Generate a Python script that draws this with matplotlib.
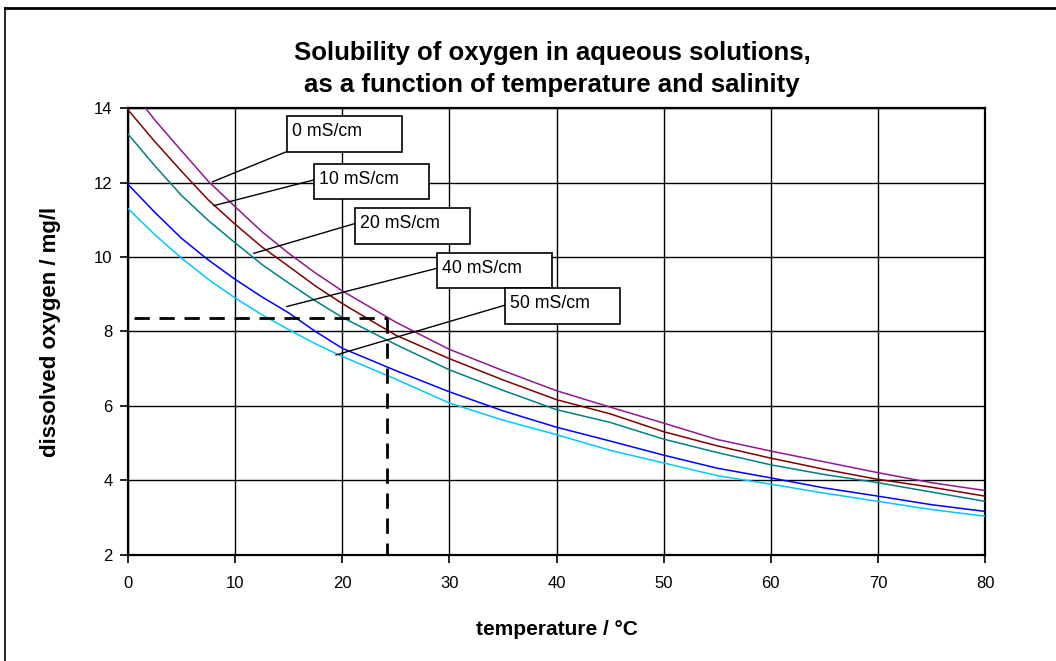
import matplotlib
matplotlib.use("Agg")
import matplotlib.pyplot as plt
from matplotlib.patches import Rectangle
from matplotlib.lines import Line2D

plt.rcParams['font.family'] = ['Liberation Sans', 'DejaVu Sans']

# data (mg/l at each temperature)
temperature = [0, 2.5, 5, 7.5, 10, 12.5, 15, 17.5, 20, 25, 30, 35, 40, 45, 50, 55, 60, 65, 70, 75, 80]
o2_0 = [14.6, 13.68, 12.85, 12.03, 11.35, 10.68, 10.1, 9.57, 9.09, 8.25, 7.52, 6.95, 6.41, 5.97, 5.54, 5.1, 4.79, 4.5, 4.21, 3.94, 3.73]
o2_10 = [13.95, 13.1, 12.3, 11.53, 10.88, 10.27, 9.75, 9.22, 8.75, 7.9, 7.27, 6.7, 6.17, 5.79, 5.31, 4.93, 4.6, 4.3, 4.03, 3.82, 3.58]
o2_20 = [13.3, 12.45, 11.65, 10.98, 10.38, 9.8, 9.3, 8.82, 8.38, 7.65, 6.97, 6.42, 5.9, 5.56, 5.11, 4.75, 4.42, 4.16, 3.94, 3.69, 3.44]
o2_40 = [11.95, 11.2, 10.5, 9.92, 9.4, 8.93, 8.5, 8.0, 7.55, 6.95, 6.38, 5.87, 5.43, 5.06, 4.68, 4.33, 4.07, 3.8, 3.58, 3.35, 3.17]
o2_50 = [11.3, 10.6, 9.97, 9.4, 8.9, 8.45, 8.05, 7.67, 7.33, 6.72, 6.08, 5.62, 5.23, 4.81, 4.47, 4.13, 3.9, 3.66, 3.44, 3.22, 3.04]

series = [o2_0, o2_10, o2_20, o2_40, o2_50]
salinity_labels = ["0 mS/cm", "10 mS/cm", "20 mS/cm", "40 mS/cm", "50 mS/cm"]
line_colors = ["#901890", "#800000", "#008080", "#0000ff", "#00c8ff"]

# reading example: 0 mS/cm at 24.2 degC
mark_temp = 24.2
mark_o2 = 8.37

# label boxes: lower-left corner, leader start, leader end (data units)
box_corner = [(14.82, 12.83), (17.37, 11.55), (21.2, 10.36), (28.88, 9.16), (35.23, 8.20)]
leader_start = [(14.82, 12.83), (17.37, 12.07), (21.2, 10.9), (28.88, 9.7), (35.23, 8.71)]
leader_end = [(7.9, 12.02), (8.03, 11.38), (11.76, 10.1), (14.82, 8.67), (19.42, 7.37)]
box_w = 10.74
box_h = 0.96

fig = plt.figure(figsize=(10.56, 6.61), dpi=100)
ax = fig.add_axes([0.1212, 0.1604, 0.8116, 0.6762])

for ys, c in zip(series, line_colors):
    ax.plot(temperature, ys, color=c, lw=1.1, zorder=3)

# dashed reading lines
ax.plot([0.6, mark_temp], [mark_o2, mark_o2], color="black", lw=2.0, ls=(0, (5.5, 3.5)), zorder=4)
ax.plot([mark_temp, mark_temp], [mark_o2, 2.0], color="black", lw=2.0, ls=(0, (5.5, 3.5)), zorder=4, clip_on=False)

# labels with leader lines
for lab, (bx, by), (sx, sy), (ex, ey) in zip(salinity_labels, box_corner, leader_start, leader_end):
    ax.plot([sx, ex], [sy, ey], color="black", lw=1.0, zorder=5)
    ax.add_patch(Rectangle((bx, by), box_w, box_h, facecolor="white", edgecolor="black", lw=1.2, zorder=6))
    ax.text(bx + 0.45, by + box_h - 0.42, lab, fontsize=12.8, ha="left", va="center", zorder=7)

ax.set_xlim(0, 80)
ax.set_ylim(2, 14)
ax.set_xticks(range(0, 81, 10))
ax.set_yticks(range(2, 15, 2))
ax.grid(True, color="black", lw=1.0)
ax.set_axisbelow(True)
for s in ax.spines.values():
    s.set_linewidth(1.6)
ax.tick_params(direction="out", length=6, width=1.2, labelsize=12)
ax.tick_params(axis="x", pad=9)
ax.tick_params(axis="y", pad=5)

fig.text(0.523, 1 - 69 / 661, "Solubility of oxygen in aqueous solutions,\nas a function of temperature and salinity",
         fontsize=18.5, fontweight="bold", linespacing=1.45, ha="center", va="center")
ax.set_xlabel("temperature / °C", fontsize=15, fontweight="bold", labelpad=21)
ax.set_ylabel("dissolved oxygen / mg/l", fontsize=16, fontweight="bold", labelpad=24)

# outer frame (cut off at right and bottom)
fig.add_artist(Line2D([5 / 1056, 1.0], [1 - 8 / 661, 1 - 8 / 661], color="black", lw=2.0))
fig.add_artist(Line2D([5 / 1056, 5 / 1056], [0.0, 1 - 8 / 661], color="black", lw=1.2))

fig.savefig("out.png", dpi=100)
